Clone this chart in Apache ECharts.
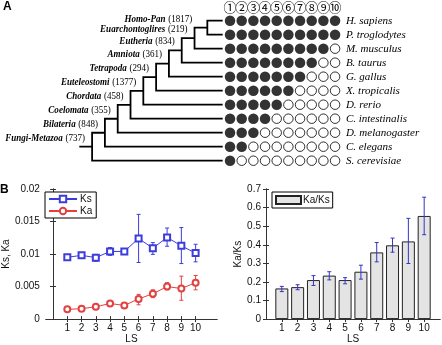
<!DOCTYPE html>
<html>
<head>
<meta charset="utf-8">
<script src="https://cdn.jsdelivr.net/npm/echarts@6/dist/echarts.min.js"></script>
<style>
  html, body { margin: 0; padding: 0; background: #fff; }
  #chart { width: 442px; height: 345px; }
</style>
</head>
<body>
<div id="chart"></div>
<script>
// ---- Panel A: species, lineage-specificity columns and clade tree ----
const species = ['H. sapiens', 'P. troglodytes', 'M. musculus', 'B. taurus', 'G. gallus',
  'X. tropicalis', 'D. rerio', 'C. intestinalis', 'D. melanogaster', 'C. elegans', 'S. cerevisiae'];
// number of LS classes (filled circles) present in each species
const sharedLS = [10, 10, 9, 8, 7, 6, 5, 4, 3, 2, 1];
const lsHeaders = ['①', '②', '③', '④', '⑤', '⑥', '⑦', '⑧', '⑨', '⑩'];
const cladeNames = ['Homo-Pan', 'Euarchontoglires', 'Eutheria', 'Amniota', 'Tetrapoda',
  'Euteleostomi', 'Chordata', 'Coelomata', 'Bilateria', 'Fungi-Metazoa'];
const cladeCounts = [1817, 219, 834, 361, 294, 1377, 458, 355, 848, 737];

// ---- Panel B: rates per LS class ----
const lsClasses = [1, 2, 3, 4, 5, 6, 7, 8, 9, 10];
const ks     = [0.0095, 0.0098, 0.00945, 0.0104, 0.0104, 0.0124, 0.0109, 0.01256, 0.01126, 0.01015];
const ksLow  = [0.0091, 0.0096, 0.0089, 0.0098, 0.0103, 0.0087, 0.00995, 0.0112, 0.00854, 0.0088];
const ksHigh = [0.0099, 0.0100, 0.00995, 0.0110, 0.0105, 0.0161, 0.01176, 0.0140, 0.01407, 0.0115];
const ka     = [0.0015, 0.0016, 0.0019, 0.0024, 0.0021, 0.0031, 0.0039, 0.0050, 0.0047, 0.0056];
const kaLow  = [0.0014, 0.0015, 0.0015, 0.0020, 0.0019, 0.0022, 0.0033, 0.0045, 0.0029, 0.0045];
const kaHigh = [0.0016, 0.0017, 0.0022, 0.0027, 0.0023, 0.0038, 0.0045, 0.0056, 0.0066, 0.0067];
const kaks     = [0.165, 0.172, 0.21, 0.234, 0.21, 0.255, 0.359, 0.397, 0.418, 0.555];
const kaksLow  = [0.148, 0.158, 0.181, 0.211, 0.19, 0.215, 0.308, 0.36, 0.299, 0.454];
const kaksHigh = [0.176, 0.185, 0.234, 0.255, 0.223, 0.29, 0.412, 0.436, 0.542, 0.656];

// ---- tree geometry (ladder-shaped cladogram) ----
const LEAF_DEPTH = -1.2;
const nodeY = [];
const treeLines = [];
cladeNames.forEach((name, k) => {
  const cx = k === 0 ? LEAF_DEPTH : k - 1;
  const cy = k === 0 ? 0 : nodeY[k - 1];
  const leafRow = k + 1;
  nodeY.push((cy + leafRow) / 2);
  treeLines.push({ coords: [[cx, cy], [k, cy], [k, leafRow], [LEAF_DEPTH, leafRow]] });
});
const rootK = cladeNames.length - 1;
treeLines.push({ coords: [[rootK, nodeY[rootK]], [rootK + 1, nodeY[rootK]]] });

// circle matrix
const filledDots = [], openDots = [];
species.forEach((sp, i) => {
  lsHeaders.forEach((h, j) => {
    (j < sharedLS[i] ? filledDots : openDots).push([j, i]);
  });
});

const SANS = 'Liberation Sans, Arial, sans-serif';
const SERIF = 'Liberation Serif, Times New Roman, serif';
const axisColor = '#333';
const tickStyle = { show: true, inside: true, length: 3, lineStyle: { color: axisColor } };

function errorBars(color, capHalf) {
  return function (params, api) {
    const x = api.value(0);
    const lo = api.coord([x, api.value(1)]);
    const hi = api.coord([x, api.value(2)]);
    const style = { stroke: color, lineWidth: 1 };
    return {
      type: 'group',
      children: [
        { type: 'line', shape: { x1: lo[0], y1: lo[1], x2: hi[0], y2: hi[1] }, style },
        { type: 'line', shape: { x1: lo[0] - capHalf, y1: lo[1], x2: lo[0] + capHalf, y2: lo[1] }, style },
        { type: 'line', shape: { x1: hi[0] - capHalf, y1: hi[1], x2: hi[0] + capHalf, y2: hi[1] }, style }
      ]
    };
  };
}

// clade name + gene count, set in a narrow italic face just above-left of each node
function cladeLabel(params, api) {
  const k = params.dataIndex;
  const p = api.coord([api.value(0), api.value(1)]);
  return {
    type: 'text',
    x: p[0] - (k === 0 ? 15 : 7),
    y: p[1] - 9,
    scaleX: 0.82,
    style: {
      text: '{n|' + cladeNames[k] + '} {c|(' + cladeCounts[k] + ')}',
      align: 'right', verticalAlign: 'middle',
      rich: {
        n: { fontFamily: SERIF, fontStyle: 'italic', fontWeight: 'bold', fontSize: 11, fill: '#000' },
        c: { fontFamily: SERIF, fontSize: 11, fill: '#000' }
      }
    }
  };
}

const KS_COLOR = '#3c3cdc';
const KA_COLOR = '#e44040';
const BAR_ERR = '#3535c0';

const chart = echarts.init(document.getElementById('chart'), null, { renderer: 'canvas' });

const hiddenValueAxis = {
  type: 'value', show: true,
  axisLine: { show: false }, axisTick: { show: false },
  axisLabel: { show: false }, splitLine: { show: false }
};

const labelText = { fontSize: 10, color: '#111', fontFamily: SANS };

chart.setOption({
  animation: false,
  backgroundColor: '#fff',
  textStyle: { fontFamily: SANS },
  graphic: [
    { type: 'text', left: 3, top: 1, style: { text: 'A', font: 'bold 12px ' + SANS, fill: '#000' } },
    { type: 'text', left: 0, top: 184, style: { text: 'B', font: 'bold 12px ' + SANS, fill: '#000' } }
  ],
  legend: [
    {
      data: ['Ks', 'Ka'], orient: 'vertical', left: 45, top: 192,
      backgroundColor: '#fff', borderColor: '#000', borderWidth: 1, borderRadius: 0,
      padding: [2, 4, 2, 3], itemGap: 2, itemWidth: 28, itemHeight: 8,
      textStyle: Object.assign({ padding: [0, 0, 0, -2] }, labelText)
    },
    {
      data: ['Ka/Ks'], orient: 'vertical', left: 272, top: 192,
      backgroundColor: '#fff', borderColor: '#000', borderWidth: 1, borderRadius: 0,
      padding: [3, 3, 3, 3], itemWidth: 25, itemHeight: 8, icon: 'rect',
      textStyle: Object.assign({ padding: [0, 0, 0, -3] }, labelText)
    }
  ],
  grid: [
    { left: 79.3, top: 13.7, width: 143.4, height: 154 },          // tree
    { left: 224.2, top: 13.7, width: 116.7, height: 154 },         // circle matrix
    { left: 42, top: 189, width: 175, height: 133 },               // Ks, Ka
    { left: 266, top: 189, width: 174, height: 133 }               // Ka/Ks
  ],
  xAxis: [
    Object.assign({}, hiddenValueAxis, { gridIndex: 0, min: LEAF_DEPTH, max: rootK + 1, inverse: true }),
    {
      type: 'category', gridIndex: 1, position: 'top', data: lsHeaders,
      axisLine: { show: false }, axisTick: { show: false },
      axisLabel: { interval: 0, margin: 0, fontSize: 13, color: '#000',
        fontFamily: '"Noto Sans CJK JP", "DejaVu Sans", serif' }
    },
    {
      type: 'value', gridIndex: 2, min: -0.5, max: 11.5,
      name: 'LS', nameLocation: 'middle', nameGap: 14, nameTextStyle: labelText,
      axisLine: { lineStyle: { color: axisColor } },
      axisTick: Object.assign({ customValues: lsClasses }, tickStyle),
      axisLabel: Object.assign({ customValues: lsClasses, margin: 4 }, labelText),
      splitLine: { show: false }
    },
    {
      type: 'value', gridIndex: 2, min: -0.5, max: 11.5, position: 'top',
      axisLine: { show: true, lineStyle: { color: axisColor } },
      axisTick: Object.assign({ customValues: lsClasses }, tickStyle),
      axisLabel: { show: false }, splitLine: { show: false }
    },
    {
      type: 'value', gridIndex: 3, min: 0, max: 11,
      name: 'LS', nameLocation: 'middle', nameGap: 14, nameTextStyle: labelText,
      axisLine: { lineStyle: { color: axisColor } },
      axisTick: Object.assign({ customValues: lsClasses }, tickStyle),
      axisLabel: Object.assign({ customValues: lsClasses, margin: 4 }, labelText),
      splitLine: { show: false }
    },
    {
      type: 'value', gridIndex: 3, min: 0, max: 11, position: 'top',
      axisLine: { show: true, lineStyle: { color: axisColor } },
      axisTick: Object.assign({ customValues: lsClasses }, tickStyle),
      axisLabel: { show: false }, splitLine: { show: false }
    }
  ],
  yAxis: [
    Object.assign({}, hiddenValueAxis, { gridIndex: 0, min: -0.5, max: species.length - 0.5, inverse: true }),
    {
      type: 'category', gridIndex: 1, position: 'right', inverse: true, data: species,
      axisLine: { show: false }, axisTick: { show: false },
      axisLabel: { interval: 0, margin: 5, fontSize: 11, color: '#000', fontStyle: 'italic', fontFamily: SERIF }
    },
    {
      type: 'value', gridIndex: 2, min: 0, max: 0.02, interval: 0.005,
      name: 'Ks, Ka', nameLocation: 'middle', nameGap: 33, nameTextStyle: labelText,
      axisLine: { show: true, lineStyle: { color: axisColor } },
      axisTick: tickStyle,
      axisLabel: Object.assign({ margin: 6 }, labelText),
      splitLine: { show: false }
    },
    {
      type: 'value', gridIndex: 2, min: 0, max: 0.02, interval: 0.005, position: 'right',
      axisLine: { show: true, lineStyle: { color: axisColor } },
      axisTick: tickStyle, axisLabel: { show: false }, splitLine: { show: false }
    },
    {
      type: 'value', gridIndex: 3, min: 0, max: 0.7, interval: 0.1,
      name: 'Ka/Ks', nameLocation: 'middle', nameGap: 20, nameTextStyle: labelText,
      axisLine: { show: true, lineStyle: { color: axisColor } },
      axisTick: tickStyle,
      axisLabel: Object.assign({ margin: 5, formatter: v => (Math.round(v * 10) / 10).toString() }, labelText),
      splitLine: { show: false }
    },
    {
      type: 'value', gridIndex: 3, min: 0, max: 0.7, interval: 0.1, position: 'right',
      axisLine: { show: true, lineStyle: { color: axisColor } },
      axisTick: tickStyle, axisLabel: { show: false }, splitLine: { show: false }
    }
  ],
  series: [
    // cladogram branches
    {
      type: 'lines', coordinateSystem: 'cartesian2d', xAxisIndex: 0, yAxisIndex: 0,
      polyline: true, silent: true, data: treeLines,
      lineStyle: { color: '#000', width: 1.8, opacity: 1 }
    },
    // clade names with gene counts
    {
      type: 'custom', xAxisIndex: 0, yAxisIndex: 0, silent: true,
      data: cladeNames.map((name, k) => [k, nodeY[k]]),
      renderItem: cladeLabel
    },
    // LS membership circles
    {
      type: 'scatter', xAxisIndex: 1, yAxisIndex: 1, data: filledDots,
      symbol: 'circle', symbolSize: 10.5, silent: true,
      itemStyle: { color: '#000' }
    },
    {
      type: 'scatter', xAxisIndex: 1, yAxisIndex: 1, data: openDots,
      symbol: 'circle', symbolSize: 9.5, silent: true,
      itemStyle: { color: '#fff', borderColor: '#000', borderWidth: 1 }
    },
    // Ks and Ka
    {
      name: 'Ks', type: 'line', xAxisIndex: 2, yAxisIndex: 2,
      data: lsClasses.map((x, i) => [x, ks[i]]),
      symbol: 'emptyRect', symbolSize: 6, color: KS_COLOR,
      lineStyle: { width: 1, color: KS_COLOR }, itemStyle: { color: KS_COLOR, borderWidth: 1 }
    },
    {
      name: 'Ka', type: 'line', xAxisIndex: 2, yAxisIndex: 2,
      data: lsClasses.map((x, i) => [x, ka[i]]),
      symbol: 'emptyCircle', symbolSize: 6, color: KA_COLOR,
      lineStyle: { width: 1, color: KA_COLOR }, itemStyle: { color: KA_COLOR, borderWidth: 1 }
    },
    {
      type: 'custom', xAxisIndex: 2, yAxisIndex: 2, silent: true, z: 3,
      data: lsClasses.map((x, i) => [x, ksLow[i], ksHigh[i]]),
      renderItem: errorBars(KS_COLOR, 2)
    },
    {
      type: 'custom', xAxisIndex: 2, yAxisIndex: 2, silent: true, z: 3,
      data: lsClasses.map((x, i) => [x, kaLow[i], kaHigh[i]]),
      renderItem: errorBars(KA_COLOR, 2)
    },
    // Ka/Ks bars
    {
      name: 'Ka/Ks', type: 'bar', xAxisIndex: 4, yAxisIndex: 4,
      data: lsClasses.map((x, i) => [x, kaks[i]]),
      barWidth: 13,
      itemStyle: { color: '#e4e4e4', borderColor: '#222', borderWidth: 1 }
    },
    {
      type: 'custom', xAxisIndex: 4, yAxisIndex: 4, silent: true, z: 5,
      data: lsClasses.map((x, i) => [x, kaksLow[i], kaksHigh[i]]),
      renderItem: errorBars(BAR_ERR, 2)
    }
  ]
});
</script>
</body>
</html>
